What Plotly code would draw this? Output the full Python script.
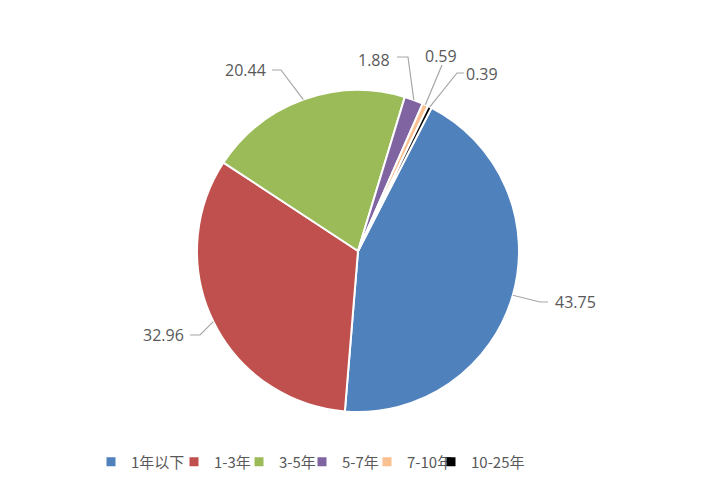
import math
import plotly.graph_objects as go

# ---- data ----
categories = ["1年以下", "1-3年", "3-5年", "5-7年", "7-10年", "10-25年"]
values = [43.75, 32.96, 20.44, 1.88, 0.59, 0.39]
value_labels = ["43.75", "32.96", "20.44", "1.88", "0.59", "0.39"]

# ---- style ----
colors = ["#4F81BD", "#C0504D", "#9BBB59", "#8064A2", "#FAC08F", "#000000"]
W, H = 717, 494
CX, CY, R = 358, 251, 161
ROT = 27.2
label_font = dict(family="Open Sans, Noto Sans, sans-serif", size=16, color="#595959")
line_color = "#A6A6A6"
legend_widths = [38, 20, 18, 20, 19, 60]

# label layout (pixel positions of text centre, optional elbow, line start near text)
label_layout = [
    dict(text=(575, 302), elbow=(540, 302), start=(548, 302)),
    dict(text=(163, 335), elbow=(200, 335), start=(190, 335)),
    dict(text=(245, 70), elbow=(281, 70), start=(272, 70)),
    dict(text=(374, 60), elbow=(408, 57), start=(397, 57)),
    dict(text=(441, 56), elbow=None, start=(442, 65)),
    dict(text=(482, 74), elbow=(457, 73), start=(464, 73)),
]


def px_to_paper(x, y):
    return x / W, 1 - y / H


fig = go.Figure(go.Pie(
    labels=categories,
    values=values,
    sort=False,
    direction="clockwise",
    rotation=ROT,
    marker=dict(colors=colors, line=dict(color="white", width=2)),
    textinfo="none",
    hoverinfo="label+value",
    showlegend=False,
    domain=dict(x=[(CX - R) / W, (CX + R) / W], y=[1 - (CY + R) / H, 1 - (CY - R) / H]),
))

# legend entries (one per category, same colours as slices)
for cat, col, lw in zip(categories, colors, legend_widths):
    fig.add_trace(go.Scatter(
        x=[None], y=[None], mode="markers", name=cat,
        marker=dict(symbol="square", size=9, color=col),
        legendwidth=lw, showlegend=True, hoverinfo="skip",
    ))

# leader lines and labels, anchored at each slice's mid angle
total = sum(values)
cum = 0.0
shapes = []
annotations = []
for v, lab, lay in zip(values, value_labels, label_layout):
    mid = ROT + (cum + v / 2) / total * 360
    cum += v
    a = math.radians(mid)
    ex, ey = CX + R * math.sin(a), CY - R * math.cos(a)
    pts = [lay["start"]]
    if lay["elbow"] is not None:
        pts.append(lay["elbow"])
    pts.append((ex, ey))
    path = ""
    for i, (x, y) in enumerate(pts):
        px, py = px_to_paper(x, y)
        path += ("M" if i == 0 else "L") + f"{px:.5f},{py:.5f} "
    shapes.append(dict(type="path", xref="paper", yref="paper", path=path.strip(),
                       line=dict(color=line_color, width=1.2)))
    tx, ty = px_to_paper(*lay["text"])
    annotations.append(dict(x=tx, y=ty, xref="paper", yref="paper", text=lab,
                            showarrow=False, font=label_font,
                            xanchor="center", yanchor="middle"))

fig.update_layout(
    width=W, height=H,
    margin=dict(l=0, r=0, t=0, b=0),
    paper_bgcolor="white",
    plot_bgcolor="white",
    xaxis=dict(visible=False),
    yaxis=dict(visible=False),
    shapes=shapes,
    annotations=annotations,
    showlegend=True,
    legend=dict(orientation="h", x=91 / W, xanchor="left", y=1 - 462 / H, yanchor="middle",
                font=dict(family="Noto Sans CJK SC, sans-serif", size=15, color="#595959"),
                itemwidth=30, traceorder="normal", itemclick=False, itemdoubleclick=False),
)

fig.write_html("out.html", config={"displayModeBar": False},
               post_script="document.body.style.margin='0px';")
